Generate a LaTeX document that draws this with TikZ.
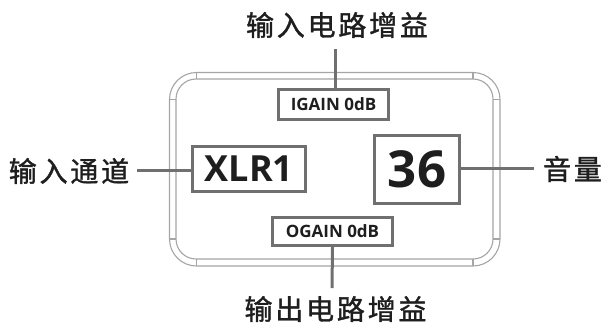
\documentclass[tikz,border=0pt]{standalone}
\usepackage{fontspec}
\setmainfont{Open Sans}
\newfontfamily\cjk[LetterSpace=10,FakeBold=1.3]{Noto Sans CJK SC}
\definecolor{boxgray}{RGB}{112,112,112}
\definecolor{rimgray}{RGB}{165,165,165}
\definecolor{ink}{RGB}{30,30,30}
\begin{document}
\begin{tikzpicture}[x=1pt,y=-1pt,
  box/.style={draw=boxgray,line width=3pt,inner sep=0pt,text=ink,fill=white},
  conn/.style={draw=boxgray,line width=3pt},
  rim/.style={draw=rimgray,line width=1.1pt},
  lbl/.style={inner sep=0pt,text=ink,font=\cjk\fontsize{28}{28}\selectfont},
  small/.style={font=\bfseries\fontsize{17}{17}\selectfont}]
\useasboundingbox (0,0) rectangle (601,322);
% frame (double rounded outline)
\draw[rim,rounded corners=27pt] (169.5,72.5) rectangle (500,266);
\draw[rim,rounded corners=20pt] (176,79) rectangle (493,259);
\draw[rim] (196.5,72.5) -- (196.5,79) (473,72.5) -- (473,79)
  (196.5,259) -- (196.5,266) (473,259) -- (473,266)
  (169.5,99.5) -- (176,99.5) (169.5,239) -- (176,239)
  (493,99.5) -- (500,99.5) (493,239) -- (500,239);
% boxes
\node[box,small,minimum width=110pt,minimum height=30pt] (ig) at (333.5,104.5) {IGAIN 0dB};
\node[box,font=\bfseries\fontsize{36}{36}\selectfont,minimum width=113pt,minimum height=45pt] (xlr) at (249,169) {XLR1};
\node[box,font=\bfseries\fontsize{51}{51}\selectfont,minimum width=85pt,minimum height=68pt] (num) at (417,169.5) {36};
\node[box,small,minimum width=120pt,minimum height=28pt] (og) at (332.5,231.5) {OGAIN 0dB};
% labels
\node[lbl] (tin) at (337,25) {输入电路增益};
\node[lbl] (tout) at (335.5,309) {输出电路增益};
\node[lbl] (tch) at (69,171) {输入通道};
\node[lbl] (tvol) at (572.5,169) {音量};
% connectors
\coordinate (ta) at (335,49);
\coordinate (ba) at (332,288);
\coordinate (la) at (137,170);
\coordinate (ra) at (534,168);
\draw[conn] (ta) -- (ta |- ig.north);
\draw[conn] (og.south) -- (ba);
\draw[conn] (la) -- (la -| xlr.west);
\draw[conn] (num.east |- ra) -- (ra);
\end{tikzpicture}
\end{document}
